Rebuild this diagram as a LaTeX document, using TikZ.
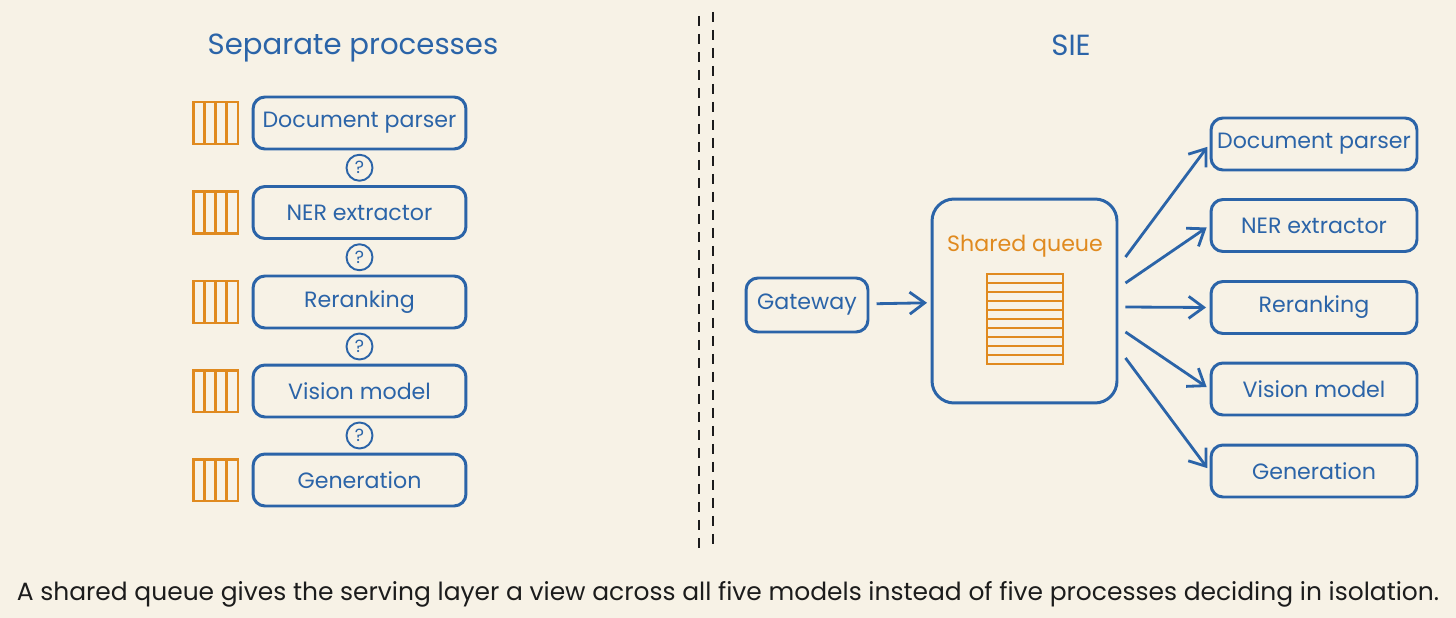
\documentclass[tikz,border=0pt]{standalone}
\usepackage{fontspec}
\setmainfont{Poppins}
\usetikzlibrary{positioning, arrows.meta, calc}
\usepackage{xcolor}

\definecolor{paper}{HTML}{F7F2E6}
\definecolor{inkblue}{HTML}{2B64A8}
\definecolor{qorange}{HTML}{E08A1F}
\definecolor{inkblack}{HTML}{1C1C1C}

\tikzset{
  model/.style={draw=inkblue, line width=1.7pt, rounded corners=0.24cm,
    minimum width=4.26cm, minimum height=1.04cm, text=inkblue,
    font=\fontsize{12.6}{14}\selectfont},
  qicon/.style={draw=qorange, line width=1.7pt, minimum width=0.9cm,
    minimum height=0.84cm, inner sep=0pt,
    path picture={
      \foreach \f in {0.25,0.5,0.75}
        \draw[qorange, line width=1.7pt]
          ($(path picture bounding box.south west)!\f!(path picture bounding box.south east)$) --
          ($(path picture bounding box.north west)!\f!(path picture bounding box.north east)$);}},
  qstack/.style={draw=qorange, line width=1.5pt, minimum width=1.52cm,
    minimum height=1.8cm, inner sep=0pt,
    path picture={
      \foreach \f in {0.1,0.2,...,0.95}
        \draw[qorange, line width=1.5pt]
          ($(path picture bounding box.south west)!\f!(path picture bounding box.north west)$) --
          ($(path picture bounding box.south east)!\f!(path picture bounding box.north east)$);}},
  ask/.style={circle, draw=inkblue, line width=1.1pt, minimum size=0.52cm,
    inner sep=0pt, text=inkblue, font=\fontsize{10}{11}\selectfont},
  flow/.style={draw=inkblue, line width=1.6pt,
    -{Straight Barb[length=0.3cm, width=0.44cm, line width=1.6pt]},
    shorten >=2pt},
  title/.style={text=inkblue, font=\fontsize{16.6}{19}\selectfont}
}

\begin{document}
\begin{tikzpicture}[x=0.02cm, y=-0.02cm]
    \fill[paper] (0,0) rectangle (1456,618);
    \useasboundingbox (0,0) rectangle (1456,618);

    %--- SEPARATE PROCESSES ---
    \node[title] (lefttitle) at (353,48) {Separate processes};
    \node[model] (lp1) at (359.5,123) {Document parser};
    \node[model] (lp2) at (359.5,212.5) {NER extractor};
    \node[model] (lp3) at (359.5,302) {Reranking};
    \node[model] (lp4) at (359.5,391) {Vision model};
    \node[model] (lp5) at (359.5,480) {Generation};
    \node[qicon] (lq1) at (215.5,123) {};
    \node[qicon] (lq2) at (215.5,212.5) {};
    \node[qicon] (lq3) at (215.5,302) {};
    \node[qicon] (lq4) at (215.5,391) {};
    \node[qicon] (lq5) at (215.5,480) {};
    \node[ask] (ask1) at ($(lp1.south)!0.5!(lp2.north)$) {?};
    \node[ask] (ask2) at ($(lp2.south)!0.5!(lp3.north)$) {?};
    \node[ask] (ask3) at ($(lp3.south)!0.5!(lp4.north)$) {?};
    \node[ask] (ask4) at ($(lp4.south)!0.5!(lp5.north)$) {?};

    %--- DIVIDER ---
    \draw[inkblack, line width=1.3pt, dash pattern=on 0.2cm off 0.16cm] (699,16) -- (699,550);
    \draw[inkblack, line width=1.3pt, dash pattern=on 0.2cm off 0.16cm] (713,12) -- (713,546);

    %--- SIE ---
    \node[title] (righttitle) at (1071,45) {SIE};
    \node[model, minimum width=2.44cm, minimum height=1.08cm] (gw) at (807,305) {Gateway};
    \node[draw=inkblue, line width=1.7pt, rounded corners=0.44cm,
      minimum width=3.7cm, minimum height=4.08cm] (shared) at (1024.5,301) {};
    \node[text=qorange, font=\fontsize{12.6}{14}\selectfont] (sqlabel) at (1025,246) {Shared queue};
    \node[qstack] (stack) at (1025,319) {};
    \node[model, minimum width=4.12cm] (rp1) at (1314,144) {Document parser};
    \node[model, minimum width=4.12cm] (rp2) at (1314,225.5) {NER extractor};
    \node[model, minimum width=4.12cm] (rp3) at (1314,307.5) {Reranking};
    \node[model, minimum width=4.12cm] (rp4) at (1314,389) {Vision model};
    \node[model, minimum width=4.12cm] (rp5) at (1314,471) {Generation};

    \draw[flow, shorten <=4pt] (gw) -- (shared);
    \draw[flow] ([xshift=0.14cm, yshift=0.88cm]shared.east) -- (rp1.west);
    \draw[flow] ([xshift=0.14cm, yshift=0.36cm]shared.east) -- (rp2.west);
    \draw[flow] ([xshift=0.14cm, yshift=-0.12cm]shared.east) -- (rp3.west);
    \draw[flow] ([xshift=0.14cm, yshift=-0.62cm]shared.east) -- (rp4.west);
    \draw[flow] ([xshift=0.14cm, yshift=-1.14cm]shared.east) -- (rp5.west);

    %--- CAPTION ---
    \node[text=inkblack, font=\fontsize{14.2}{16}\selectfont] (caption) at (728,594)
      {A shared queue gives the serving layer a view across all five models instead of five processes deciding in isolation.};
  \end{tikzpicture}
\end{document}
